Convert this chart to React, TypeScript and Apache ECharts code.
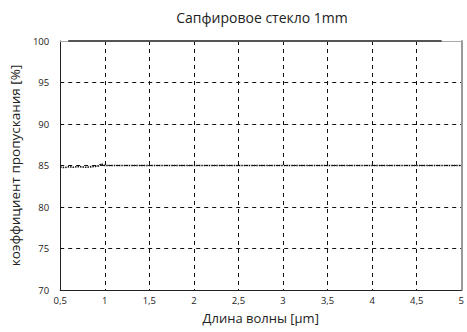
import React, { useEffect, useRef } from "react";
import * as echarts from "echarts";

const title = "Сапфировое стекло 1mm";
const xName = "Длина волны [μm]";
const yName = "коэффициент пропускания [%]";

const wavelengths = [0.5, 0.55, 0.6, 0.65, 0.7, 0.75, 0.8, 0.85, 0.9, 0.93, 0.96, 0.98, 1.0, 1.05, 1.5, 2, 2.5, 3, 3.5, 4, 4.5, 5];
const transmission = [84.8, 84.75, 84.85, 84.78, 84.88, 84.82, 84.78, 84.86, 84.9, 84.95, 85.2, 85.08, 85.0, 85.0, 85.0, 85.0, 85.0, 85.0, 85.0, 85.0, 85.0, 85.0];

const refX = [0.59, 4.78];
const refY = [100, 100];

export default function App() {
  const ref = useRef<HTMLDivElement>(null);
  useEffect(() => {
    const chart = echarts.init(ref.current!, null, { renderer: "svg" });
    const font = "'Open Sans', 'Noto Sans', sans-serif";
    chart.setOption({
      animation: false,
      textStyle: { fontFamily: font },
      title: {
        text: title,
        left: 257,
        textAlign: "center",
        top: 5,
        textStyle: { fontSize: 14, fontWeight: "normal", color: "#222", fontFamily: font },
      },
      grid: { left: 55, right: 4, top: 41, bottom: 42, containLabel: false },
      xAxis: [
        {
          type: "value",
          min: 0.5,
          max: 5,
          interval: 0.5,
          name: xName,
          nameLocation: "middle",
          nameGap: 21,
          nameTextStyle: { fontSize: 13, color: "#222", fontFamily: font },
          axisLine: { show: true, onZero: false, lineStyle: { color: "#222", width: 1 } },
          axisTick: { show: false },
          axisLabel: {
            fontSize: 9.5,
            color: "#222",
            margin: 5,
            formatter: (v: number) => String(v).replace(".", ","),
          },
          splitLine: { show: true, lineStyle: { color: "#111", type: [4, 4], width: 1 } },
        },
        {
          type: "value",
          position: "top",
          min: 0.5,
          max: 5,
          axisLine: { show: true, lineStyle: { color: "#aaa", width: 1 } },
          axisTick: { show: false },
          axisLabel: { show: false },
          splitLine: { show: false },
        },
      ],
      yAxis: [
        {
          type: "value",
          min: 70,
          max: 100,
          interval: 5,
          name: yName,
          nameLocation: "middle",
          nameGap: 37,
          nameTextStyle: { fontSize: 13.5, color: "#222", fontFamily: font },
          axisLine: { show: true, onZero: false, lineStyle: { color: "#222", width: 1 } },
          axisTick: { show: false },
          axisLabel: { fontSize: 9.5, color: "#222", margin: 11 },
          splitLine: { show: true, lineStyle: { color: "#111", type: [4, 4], width: 1 } },
        },
        {
          type: "value",
          position: "right",
          min: 70,
          max: 100,
          axisLine: { show: true, lineStyle: { color: "#999", width: 2 } },
          axisTick: { show: false },
          axisLabel: { show: false },
          splitLine: { show: false },
        },
      ],
      series: [
        {
          type: "line",
          data: refX.map((x, i) => [x, refY[i]]),
          symbol: "none",
          lineStyle: { color: "#555", width: 2 },
          z: 5,
        },
        {
          type: "line",
          data: wavelengths.map((x, i) => [x, transmission[i]]),
          symbol: "none",
          lineStyle: { color: "#111", width: 1.6, type: [1.5, 1] },
          z: 6,
        },
      ],
    });
    return () => chart.dispose();
  }, []);
  return <div ref={ref} style={{ width: 467, height: 332, position: "absolute", left: 0, top: 0 }} />;
}
